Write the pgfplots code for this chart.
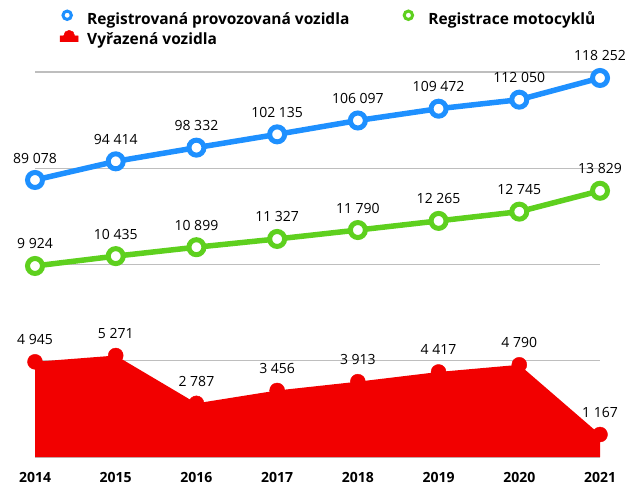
\documentclass[border=0pt]{standalone}
\usepackage{pgfplots}
\pgfplotsset{compat=1.18}
\usepackage{fontspec}
\setmainfont{Open Sans}
\definecolor{cblue}{RGB}{30,144,255}
\definecolor{cgreen}{RGB}{94,208,30}
\definecolor{cred}{RGB}{242,0,0}
\definecolor{cgrid}{RGB}{190,190,190}
\newcommand{\lbl}{\fontsize{14bp}{16bp}\selectfont}
\newcommand{\blbl}{\fontsize{14bp}{16bp}\selectfont\bfseries}
\newcommand{\leglbl}{\fontsize{15.5bp}{17bp}\selectfont\bfseries}
\begin{document}
\begin{tikzpicture}
\path[use as bounding box] (0bp,0bp) rectangle (629bp,485bp);
\pgfplotsset{base/.style={scale only axis, width=565bp, height=385bp,
  at={(35bp,28bp)}, anchor=south west, xmin=2014, xmax=2021, clip=false,
  nodes near coords style={font=\lbl, text=black, anchor=center, yshift=22bp},
  point meta=explicit symbolic}}
\begin{axis}[base, ymin=0, ymax=20000, scaled y ticks=false,
  ytick={0,5000,10000,15000,20000}, yticklabels={},
  ymajorgrids, grid style={cgrid, line width=1.3bp},
  axis line style={draw=none}, major tick length=0pt,
  xtick={2014,2015,2016,2017,2018,2019,2020,2021},
  xticklabels={\textbf{2014},\textbf{2015},\textbf{2016},\textbf{2017},\textbf{2018},\textbf{2019},\textbf{2020},\textbf{2021}},
  xticklabel style={font=\blbl, anchor=center, yshift=-20bp},
  legend columns=2,
  legend cell align=left,
  legend style={at={(0.0407,1.164)}, anchor=north west, draw=none, fill=none,
    inner sep=0pt, font=\leglbl, row sep=1.5bp,
    /tikz/every even column/.append style={column sep=48bp}},
]
\addlegendimage{legend image code/.code={\path[draw=none,fill=none] (0bp,-3bp) rectangle (27bp,10bp); \draw[cblue, line width=3bp, fill=white] (9bp,3.8bp) circle (4.2bp);}}
\addlegendentry{Registrovaná provozovaná vozidla}
\addlegendimage{legend image code/.code={\path[draw=none,fill=none] (0bp,-3bp) rectangle (27bp,10bp); \draw[cgreen, line width=3bp, fill=white] (9bp,3.8bp) circle (4.2bp);}}
\addlegendentry{Registrace motocyklů}
\addlegendimage{legend image code/.code={\path[draw=none,fill=none] (0bp,-3bp) rectangle (27bp,10bp); \fill[cred] (2bp,-2bp) -- (20bp,-2bp) -- (20bp,4bp) -- (16.5bp,4bp) arc (0:180:5.5bp) -- (2bp,4bp) -- cycle;}}
\addlegendentry{Vyřazená vozidla}

\addplot[fill=cred, draw=none, forget plot] coordinates {
(2014,4945) (2015,5271) (2016,2787) (2017,3456) (2018,3913) (2019,4417) (2020,4790) (2021,1167)} \closedcycle;
\addplot[only marks, mark=*, mark size=7.5bp, cred, nodes near coords, forget plot] coordinates {
(2014,4945) [4 945]
(2015,5271) [5 271]
(2016,2787) [2 787]
(2017,3456) [3 456]
(2018,3913) [3 913]
(2019,4417) [4 417]
(2020,4790) [4 790]
(2021,1167) [1 167]};
\addplot[cgreen, line width=5.5bp, mark=*, mark size=7.5bp,
  mark options={fill=white, draw=cgreen, line width=5bp}, nodes near coords, forget plot] coordinates {
(2014,9924) [9 924]
(2015,10435) [10 435]
(2016,10899) [10 899]
(2017,11327) [11 327]
(2018,11790) [11 790]
(2019,12265) [12 265]
(2020,12745) [12 745]
(2021,13829) [13 829]};
\end{axis}
\begin{axis}[base, ymin=9852, ymax=119968, hide axis]
\addplot[cblue, line width=5.5bp, mark=*, mark size=7.5bp,
  mark options={fill=white, draw=cblue, line width=5bp}, nodes near coords] coordinates {
(2014,89078) [89 078]
(2015,94414) [94 414]
(2016,98332) [98 332]
(2017,102135) [102 135]
(2018,106097) [106 097]
(2019,109472) [109 472]
(2020,112050) [112 050]
(2021,118252) [118 252]};
\end{axis}
\end{tikzpicture}
\end{document}
